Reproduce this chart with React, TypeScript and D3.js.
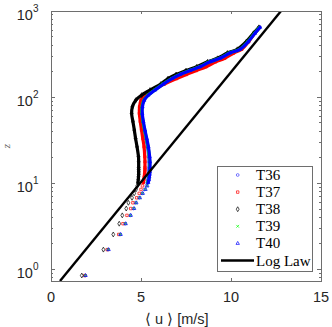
import React from 'react';
import * as d3 from 'd3';

const zLevels = [0.845, 1.69, 2.535, 3.38, 4.225, 5.07, 5.915, 6.76, 7.605, 8.45, 9.295, 10.14, 10.985, 11.83, 12.675, 13.52, 14.365, 15.21, 17.7, 20.3, 26.4, 33, 41.3, 52, 64.6, 77, 92, 105.5, 120.6, 141.6, 164, 183, 203, 225, 257, 282, 325, 359, 440, 551, 646];

// Mean velocity <u> [m/s] for each run
const uT36 = [1.9, 3.17, 3.84, 4.12, 4.4, 4.58, 4.7, 4.9, 5.06, 5.2, 5.3, 5.35, 5.39, 5.41, 5.43, 5.44, 5.45, 5.45, 5.45, 5.43, 5.36, 5.27, 5.17, 5.08, 5.02, 5.03, 5.13, 5.36, 5.73, 6.19, 6.67, 7.12, 7.67, 8.23, 8.78, 9.34, 9.89, 10.45, 10.92, 11.3, 11.58];
const uT37 = [1.87, 3.12, 3.76, 4.0, 4.22, 4.43, 4.55, 4.76, 4.9, 5.0, 5.08, 5.13, 5.16, 5.18, 5.2, 5.21, 5.22, 5.22, 5.22, 5.21, 5.17, 5.1, 5.03, 4.96, 4.91, 4.92, 5.0, 5.22, 5.62, 6.3, 6.98, 7.52, 8.07, 8.62, 9.15, 9.65, 10.15, 10.6, 10.98, 11.32, 11.58];
const uT38 = [1.71, 2.91, 3.46, 3.79, 3.96, 4.18, 4.3, 4.5, 4.62, 4.72, 4.79, 4.83, 4.85, 4.86, 4.87, 4.87, 4.87, 4.87, 4.87, 4.86, 4.78, 4.7, 4.63, 4.55, 4.48, 4.52, 4.71, 5.04, 5.5, 6.1, 6.5, 6.95, 7.5, 8.1, 8.7, 9.25, 9.8, 10.35, 10.85, 11.25, 11.55];
const uT39 = [1.9, 3.18, 3.85, 4.13, 4.41, 4.6, 4.72, 4.92, 5.08, 5.23, 5.33, 5.38, 5.42, 5.44, 5.46, 5.47, 5.48, 5.48, 5.48, 5.46, 5.39, 5.3, 5.2, 5.11, 5.05, 5.06, 5.16, 5.39, 5.76, 6.22, 6.7, 7.15, 7.7, 8.26, 8.81, 9.37, 9.92, 10.48, 10.94, 11.31, 11.59];
const uT40 = [1.92, 3.2, 3.87, 4.15, 4.43, 4.62, 4.74, 4.94, 5.1, 5.25, 5.35, 5.4, 5.44, 5.46, 5.48, 5.49, 5.5, 5.5, 5.5, 5.48, 5.41, 5.32, 5.22, 5.13, 5.07, 5.08, 5.18, 5.41, 5.78, 6.24, 6.72, 7.17, 7.72, 8.28, 8.83, 9.39, 9.94, 10.5, 10.96, 11.33, 11.61];

// Log-law reference line end points
const logLawU = [0.5, 12.78];
const logLawZ = [0.73, 1000];

const xTicks = [0, 5, 10, 15];
const yTicks = [1, 10, 100, 1000];
const yTickExps = ['0', '1', '2', '3'];
const seriesNames = ['T36', 'T37', 'T38', 'T39', 'T40'];
const logLawName = 'Log Law';

export default function App() {
  const W = 332, H = 327;
  const L = 51, R = 321, T = 11, B = 281;
  const x = d3.scaleLinear().domain([0, 15]).range([L, R]);
  const y = d3.scaleLog().domain([0.73, 1000]).range([B, T]);

  const axisColor = '#6e6e6e';
  const textColor = '#262626';

  const symTimes = (d3 as any).symbolTimes || d3.symbolCross;
  const series = [
    { name: seriesNames[0], u: uT36, color: '#4040ff', sym: d3.symbolCircle, size: 6, fill: false },
    { name: seriesNames[1], u: uT37, color: '#ff0000', sym: d3.symbolSquare, size: 6, fill: false },
    { name: seriesNames[2], u: uT38, color: '#000000', sym: d3.symbolDiamond, size: 7, fill: false },
    { name: seriesNames[3], u: uT39, color: '#00ff00', sym: symTimes, size: 6, fill: false },
    { name: seriesNames[4], u: uT40, color: '#0000ff', sym: d3.symbolTriangle, size: 5, fill: false },
  ];

  const bandStart = 11;

  const minorTicks: number[] = [];
  for (let d = -1; d <= 2; d++) {
    for (let m = 2; m <= 9; m++) {
      const v = m * Math.pow(10, d);
      if (v >= 0.73 && v <= 1000) minorTicks.push(v);
    }
  }

  const legend = { x: 217, y: 166, w: 95, h: 105 };
  const legRow = (i: number) => 175 + i * 17.1;

  return (
    <svg width={W} height={H} style={{ position: 'absolute', left: 0, top: 0, background: '#fff' }}
      fontFamily="'Liberation Sans', Arial, sans-serif">
      <defs>
        <clipPath id="plotClip">
          <rect x={L} y={T} width={R - L} height={B - T} />
        </clipPath>
      </defs>
      <rect x={0} y={0} width={W} height={H} fill="#fff" />

      <g clipPath="url(#plotClip)">
        {series.map((s) => {
          const idx = d3.range(bandStart, zLevels.length);
          const line = d3.line<number>()
            .x((i) => x(s.u[i]))
            .y((i) => y(zLevels[i]))
            .curve(d3.curveCatmullRom.alpha(0.5));
          const path = d3.symbol().type(s.sym).size(s.size)() || '';
          return (
            <g key={s.name}>
              <path d={line(idx) || ''} fill="none" stroke={s.color} strokeWidth={3.2}
                strokeLinecap="round" strokeLinejoin="round" />
              {zLevels.map((z, i) => (
                <path key={i} d={path} transform={`translate(${x(s.u[i])},${y(z)})`}
                  fill="none" stroke={s.color} strokeWidth={0.7} />
              ))}
            </g>
          );
        })}
        <line x1={x(logLawU[0])} y1={y(logLawZ[0])} x2={x(logLawU[1])} y2={y(logLawZ[1])}
          stroke="#000" strokeWidth={2.4} />
      </g>

      {/* axes box */}
      <rect x={L} y={T} width={R - L} height={B - T} fill="none" stroke={axisColor} strokeWidth={1} shapeRendering="crispEdges" />

      {/* x ticks */}
      {xTicks.map((t) => (
        <g key={'xt' + t}>
          <line x1={x(t)} x2={x(t)} y1={B} y2={B - 3} stroke={axisColor} shapeRendering="crispEdges" />
          <line x1={x(t)} x2={x(t)} y1={T} y2={T + 3} stroke={axisColor} shapeRendering="crispEdges" />
          <text x={x(t)} y={302} textAnchor="middle" fontSize={14.5} fill={textColor}>{t}</text>
        </g>
      ))}

      {/* y ticks */}
      {yTicks.map((t, i) => (
        <g key={'yt' + t}>
          <line x1={L} x2={L + 4} y1={y(t)} y2={y(t)} stroke={axisColor} shapeRendering="crispEdges" />
          <line x1={R} x2={R - 4} y1={y(t)} y2={y(t)} stroke={axisColor} shapeRendering="crispEdges" />
          <text x={38.5} y={y(t) + 8.5} textAnchor="end" fontSize={14.5} fill={textColor}>
            10<tspan dy={-7.5} fontSize={10}>{yTickExps[i]}</tspan>
          </text>
        </g>
      ))}
      {minorTicks.map((t) => (
        <g key={'ym' + t}>
          <line x1={L} x2={L + 2} y1={y(t)} y2={y(t)} stroke={axisColor} shapeRendering="crispEdges" />
          <line x1={R} x2={R - 2} y1={y(t)} y2={y(t)} stroke={axisColor} shapeRendering="crispEdges" />
        </g>
      ))}

      {/* axis labels */}
      <text x={145} y={324} fontSize={14.5} fill={textColor}>⟨ u ⟩ [m/s]</text>
      <text transform="translate(10,146) rotate(-90)" textAnchor="middle" fontSize={11}
        fontStyle="italic" fontFamily="'Liberation Serif', serif" fill="#555">z</text>

      {/* legend */}
      <rect x={legend.x} y={legend.y} width={legend.w} height={legend.h} fill="#fff" stroke={axisColor} shapeRendering="crispEdges" />
      {series.map((s, i) => {
        const path = d3.symbol().type(s.sym).size(s.size)() || '';
        return (
          <g key={'lg' + s.name}>
            <path d={path} transform={`translate(237.7,${legRow(i)})`} fill="none" stroke={s.color} strokeWidth={0.7} />
            <text x={256} y={legRow(i) + 5} fontSize={15} fontFamily="'Liberation Serif', 'Times New Roman', serif" fill="#000">{s.name}</text>
          </g>
        );
      })}
      <line x1={221} x2={254} y1={legRow(5)} y2={legRow(5)} stroke="#000" strokeWidth={2.4} />
      <text x={256} y={legRow(5) + 5} fontSize={15} fontFamily="'Liberation Serif', 'Times New Roman', serif" fill="#000">{logLawName}</text>
    </svg>
  );
}
